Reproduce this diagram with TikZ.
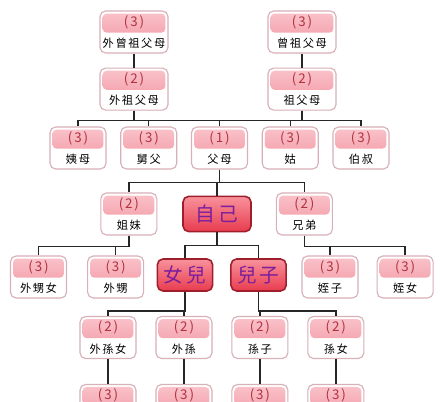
\documentclass[tikz,border=0pt]{standalone}
\usepackage{fontspec}
\setmainfont{Noto Sans CJK TC}
\newfontfamily\kinfont[LetterSpace=14]{Noto Sans CJK TC}
\usepackage{xcolor}
\usetikzlibrary{positioning}

\definecolor{boxline}{HTML}{D8B0B8}
\definecolor{hdtop}{HTML}{FAC4CB}
\definecolor{hdbot}{HTML}{F08E9B}
\definecolor{lvlred}{HTML}{B2323E}
\definecolor{selftop}{HTML}{F8929C}
\definecolor{selfbot}{HTML}{E83C4E}
\definecolor{selfline}{HTML}{9E1E2C}
\definecolor{selftext}{HTML}{7A1E9C}

\newcommand{\lvl}[1]{{\fontsize{9.5}{15}\selectfont\textcolor{lvlred}{(#1)}}}

\begin{document}
\begin{tikzpicture}[
x=0.025cm, y=-0.025cm,
node distance=0.35cm and 0.34cm,
kinbox/.style={rectangle, rounded corners=4pt, draw=boxline, line width=0.8pt,
fill=white, minimum width=1.4cm, minimum height=1.05cm, inner sep=1pt,
align=center, font=\kinfont\fontsize{8}{15}\selectfont,
path picture={\fill[rounded corners=3pt, top color=hdtop, bottom color=hdbot]
([shift={(1.8pt,-1.8pt)}]path picture bounding box.north west) rectangle
([shift={(-1.8pt,-0.5pt)}]path picture bounding box.east);}},
kinwide/.style={kinbox, minimum width=1.7cm},
selfbox/.style={rectangle, rounded corners=4pt, draw=selfline, line width=1.1pt,
top color=selftop, bottom color=selfbot, minimum width=1.38cm, minimum height=0.8cm,
inner sep=1pt, text=selftext, font=\kinfont\fontsize{14}{15}\selectfont},
kinline/.style={draw=black!85, line width=1.05pt}
]
\path[use as bounding box, clip] (0,0) rectangle (440,401);
\fill[white] (0,0) rectangle (440,401);

% ancestors
\node[kinwide] (wzfm) at (134,32) {\lvl{3}\\外曾祖父母};
\node[kinwide] (zzfm) at (302,32) {\lvl{3}\\曾祖父母};
\node[kinwide, below=of wzfm] (wzf) {\lvl{2}\\外祖父母};
\node[kinwide, below=of zzfm] (zfm) {\lvl{2}\\祖父母};

% parents' generation
\node[kinbox] (fumu) at (219.5,148) {\lvl{1}\\父母};
\node[kinbox, left=of fumu] (jiufu) {\lvl{3}\\舅父};
\node[kinbox, left=of jiufu] (yimu) {\lvl{3}\\姨母};
\node[kinbox, right=of fumu] (gu) {\lvl{3}\\姑};
\node[kinbox, right=of gu] (boshu) {\lvl{3}\\伯叔};

% own generation
\node[selfbox, minimum width=1.7cm, minimum height=0.88cm] (self) at (217,214) {自己};
\node[kinbox, left=0.62cm of self] (jiemei) {\lvl{2}\\姐妹};
\node[kinbox, right=0.6cm of self] (xiongdi) {\lvl{2}\\兄弟};

% children
\node[selfbox] (nver) at (185,275) {女兒};
\node[selfbox, right=0.42cm of nver] (erzi) {兒子};
\node[kinbox] (wsn) at (38.5,277) {\lvl{3}\\外甥女};
\node[kinbox, right=0.5cm of wsn] (ws) {\lvl{3}\\外甥};
\node[kinbox] (zhizi) at (330,277) {\lvl{3}\\姪子};
\node[kinbox, right=0.45cm of zhizi] (zhinv) {\lvl{3}\\姪女};

% grandchildren
\node[kinbox] (wsunn) at (108,337.5) {\lvl{2}\\外孫女};
\node[kinbox, right=0.47cm of wsunn] (wsun) {\lvl{2}\\外孫};
\node[kinbox, right=0.47cm of wsun] (sunzi) {\lvl{2}\\孫子};
\node[kinbox, right=0.47cm of sunzi] (sunn) {\lvl{2}\\孫女};
\foreach \g in {wsunn,wsun,sunzi,sunn}
  \node[kinbox, below=0.62cm of \g] (\g3) {\lvl{3}\\\phantom{孫}};

\draw[kinline] (wzfm) -- (wzf);
\draw[kinline] (zzfm) -- (zfm);
\foreach \c in {yimu,jiufu,fumu}
  \draw[kinline] (wzf.south) -- ++(0,10) -| (\c.north);
\foreach \c in {fumu,gu,boshu}
  \draw[kinline] (zfm.south) -- ++(0,10) -| (\c.north);
\foreach \c in {jiemei,self,xiongdi}
  \draw[kinline] (fumu.south) -- ++(0,13) -| (\c.north);
\foreach \c in {wsn,ws}
  \draw[kinline] (jiemei.south) -- ++(0,11) -| (\c.north);
\foreach \c in {zhizi,zhinv}
  \draw[kinline] (xiongdi.south) -- ++(0,11) -| (\c.north);
\foreach \c in {nver,erzi}
  \draw[kinline] (self.south) -- ++(0,13) -| (\c.north);
\foreach \c in {wsunn,wsun}
  \draw[kinline] (nver.south) -- ++(0,19) -| (\c.north);
\foreach \c in {sunzi,sunn}
  \draw[kinline] (erzi.south) -- ++(0,19) -| (\c.north);
\foreach \g in {wsunn,wsun,sunzi,sunn}
  \draw[kinline] (\g) -- (\g3);

\end{tikzpicture}
\end{document}
